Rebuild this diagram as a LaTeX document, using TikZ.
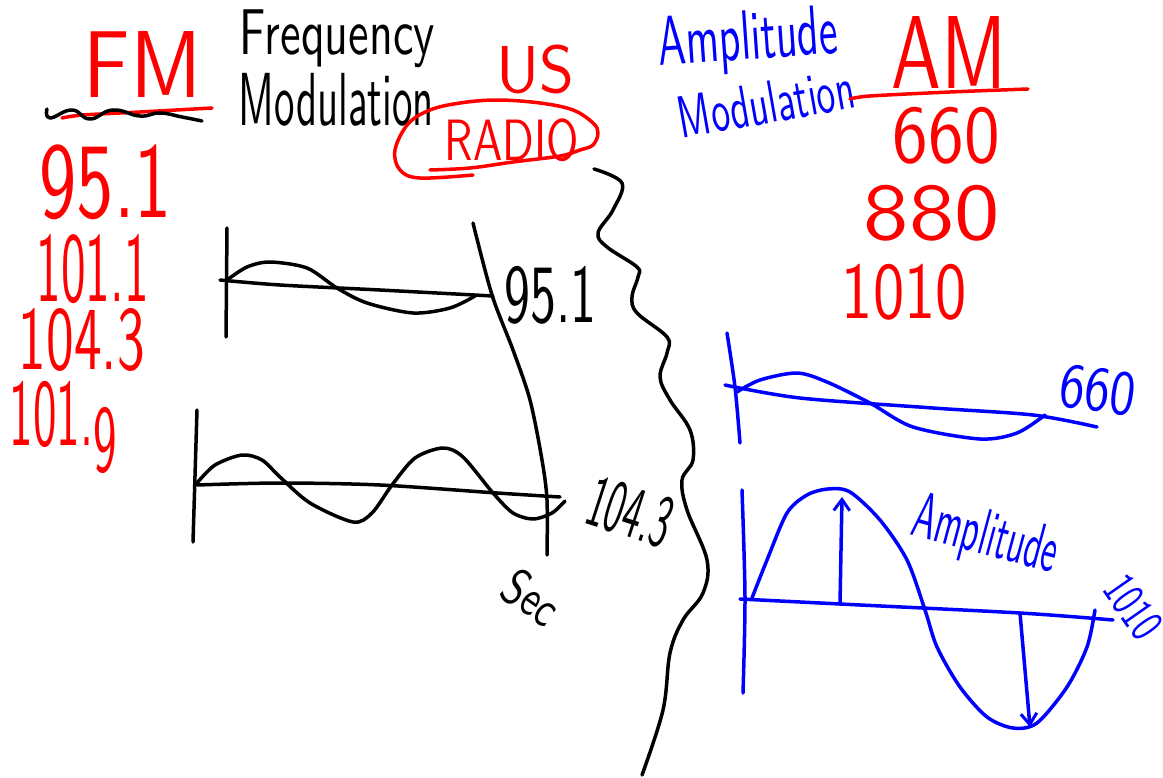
\documentclass[tikz,border=0pt]{standalone}
\usepackage{graphicx}
\usetikzlibrary{arrows.meta}
\newcommand\hwfit[3]{\resizebox*{#1pt}{#2pt}{#3}}
\begin{document}
\begin{tikzpicture}[x=1pt,y=-1pt,line width=3.5pt,line cap=round,line join=round,
  hand/.style={inner sep=0pt,anchor=north west,font=\sffamily},
  handc/.style={inner sep=0pt,anchor=center,font=\sffamily},
  stroke/.style={line width=3.5pt},
  redink/.style={stroke,draw=red},
  blueink/.style={stroke,draw=blue},
  blackink/.style={stroke,draw=black},
  barb/.style={-{Straight Barb[length=11pt,width=16pt,line width=3pt]}}]
\fill[white] (0,0) rectangle (1163,778);
\path[use as bounding box] (0,0) rectangle (1163,778);

% ---------- titles ----------
\node[hand,text=red] (fm) at (82,30) {\hwfit{118}{66}{FM}};
\draw[redink] plot[smooth] coordinates {(62,118) (83,115) (140,112) (212,108)};
\draw[blackink] plot[smooth,tension=0.8] coordinates {(47,109) (50,118) (72,110) (90,119) (113,110) (140,116) (160,113) (182,117) (202,121)};
\node[hand] (freq) at (238,8) {\hwfit{195}{58}{Frequency}};
\node[hand] (modf) at (237,72) {\hwfit{195}{53}{Modulation}};

\node[hand,text=red] (us) at (495,43) {\hwfit{78}{49}{US}};
\node[hand,text=red] (radio) at (443,117) {\hwfit{134}{43}{RADIO}};
\draw[redink] plot[smooth,tension=0.6] coordinates {(430,170) (470,168) (513,162) (560,156) (580,150) (593,145) (598,133) (593,123) (573,110) (540,103) (497,100) (460,103) (430,110) (408,124) (395,150) (400,170) (420,178) (473,175)};

\node[handc,text=blue,rotate=4] (ampl) at (748,42) {\hwfit{180}{62}{Amplitude}};
\node[handc,text=blue,rotate=10] (moda) at (766,103) {\hwfit{178}{42}{Modulation}};
\node[hand,text=red] (am) at (890,15) {\hwfit{115}{72}{AM}};
\draw[redink] plot[smooth] coordinates {(850,99) (870,96) (950,92) (1028,89)};

% ---------- frequency lists ----------
\node[hand,text=red] (f660) at (891,106) {\hwfit{107}{57}{660}};
\node[hand,text=red] (f880) at (862,183) {\hwfit{136}{56}{880}};
\node[hand,text=red] (f1010) at (840,262) {\hwfit{125}{56}{1010}};

\node[hand,text=red] (n951) at (38,143) {\hwfit{132}{75}{95.1}};
\node[hand,text=red] (n1011) at (35,233) {\hwfit{112}{69}{101.1}};
\node[hand,text=red] (n1043) at (17,307) {\hwfit{126}{63}{104.3}};
\node[hand,text=red] (n1019) at (8,380) {\hwfit{107}{92}{101.\raisebox{-0.4\height}{9}}};

% ---------- FM plots ----------
\draw[blackink] (227,228) -- (226,337);
\draw[blackink] plot[smooth] coordinates {(220,280) (280,285) (380,290) (493,296)};
\draw[blackink] plot[smooth] coordinates {(227,280) (247,267) (270,262) (307,268) (337,288) (367,303) (413,313) (450,308) (475,296)};
\draw[blackink] plot[smooth] coordinates {(473,223) (492,295) (513,350) (530,400) (542,460) (547,500) (547,555)};
\node[hand] (l951) at (503,265) {\hwfit{92}{58}{95.1}};

\draw[blackink] (197,410) -- (193,542);
\draw[blackink] plot[smooth] coordinates {(197,485) (280,483) (380,485) (497,493) (560,497)};
\draw[blackink] plot[smooth] coordinates {(197,483) (215,465) (242,455) (262,460) (280,477) (310,503) (353,522) (372,513) (392,485) (415,458) (443,448) (463,457) (493,493) (513,513) (533,519) (552,513) (565,501)};
\node[handc,rotate=-18] (l1043) at (630,512) {\hwfit{85}{52}{104.3}};
\node[handc,rotate=-35] (sec) at (532,597) {\hwfit{58}{38}{Sec}};

% ---------- divider ----------
\draw[blackink] plot[smooth,tension=0.6] coordinates {(594,169) (622,183) (613,210) (598,233) (607,247) (637,267) (638,277) (632,297) (637,313) (667,337) (667,353) (660,377) (670,400) (690,430) (693,460) (682,480) (687,510) (707,560) (703,593) (683,620) (670,653) (663,710) (642,775)};

% ---------- AM plots ----------
\draw[blueink] plot[smooth] coordinates {(727,333) (735,387) (740,443)};
\draw[blueink] plot[smooth] coordinates {(725,385) (800,398) (933,408) (1033,415) (1097,427)};
\draw[blueink] plot[smooth] coordinates {(737,392) (760,380) (797,373) (827,382) (870,403) (913,427) (980,439) (1017,433) (1045,415)};
\node[handc,text=blue,rotate=-8] (l660) at (1098,390) {\hwfit{76}{44}{660}};

\draw[blueink] plot[smooth] coordinates {(742,490) (745,597) (743,693)};
\draw[blueink] plot[smooth] coordinates {(740,599) (840,604) (1020,613) (1113,620)};
\draw[blueink] plot[smooth] coordinates {(752,598) (767,560) (787,513) (807,495) (828,489) (850,492) (880,520) (907,560) (925,610) (937,647) (960,687) (987,717) (1013,728) (1037,723) (1067,687) (1087,647) (1095,610)};
\coordinate (upbase) at (840,604);
\coordinate (uptip) at (842,497);
\coordinate (dnbase) at (1020,613);
\coordinate (dntip) at (1030,727);
\draw[blueink,barb] (upbase) -- (uptip);
\draw[blueink,barb] (dnbase) -- (dntip);
\node[handc,text=blue,rotate=-15] (ampl2) at (985,538) {\hwfit{148}{58}{Amplitude}};
\node[handc,text=blue,rotate=-55] (l1010) at (1133,607) {\hwfit{66}{34}{1010}};
\end{tikzpicture}
\end{document}
